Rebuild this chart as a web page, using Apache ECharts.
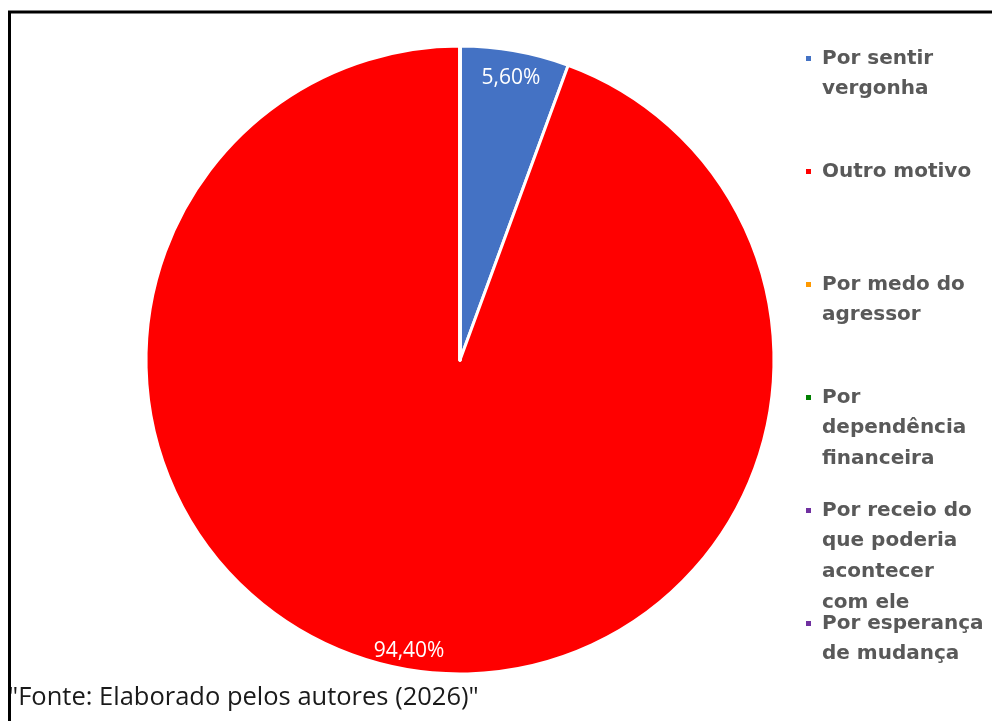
<!DOCTYPE html>
<html>
<head>
<meta charset="utf-8">
<script src="https://cdn.jsdelivr.net/npm/echarts@6/dist/echarts.min.js"></script>
<style>
html,body{margin:0;padding:0;background:#fff;}
#chart{width:992px;height:721px;}
</style>
</head>
<body>
<div id="chart"></div>
<script>
const categories = [
  'Por sentir\nvergonha',
  'Outro motivo',
  'Por medo do\nagressor',
  'Por\ndependência\nfinanceira',
  'Por receio do\nque poderia\nacontecer\ncom ele',
  'Por esperança\nde mudança'
];
const values = [5.6, 94.4, 0, 0, 0, 0];
const sourceNote = '"Fonte: Elaborado pelos autores (2026)"';

const palette = ['#4472C4', '#FF0000', '#FF9900', '#008000', '#7030A0', '#7030A0'];
const LH = 30.6;

const pieData = categories.map((c, i) => ({ name: c, value: values[i] }));

// Each legend entry: its text is padded with leading blank lines so that the
// icon (centred on the text block) lines up with the first text line.
const legends = categories.map((c, i) => {
  const n = c.split('\n').length;
  const blockLines = 2 * n - 1;
  return {
    data: [c],
    orient: 'vertical',
    left: 804,
    top: 58.5 + i * 113 - blockLines * LH / 2,
    padding: 0,
    itemWidth: 7,
    itemHeight: 7,
    icon: 'rect',
    selectedMode: false,
    formatter: name => '\n'.repeat(n - 1) + name,
    textStyle: {
      fontFamily: 'DejaVu Sans',
      fontWeight: 'bold',
      fontSize: 20,
      color: '#595959',
      lineHeight: LH,
      padding: [0, 0, 0, 5]
    }
  };
});

const chart = echarts.init(document.getElementById('chart'), null, { renderer: 'canvas' });
chart.setOption({
  animation: false,
  color: palette,
  legend: legends,
  title: {
    text: sourceNote,
    left: 8,
    top: 685,
    padding: 0,
    textStyle: { fontFamily: 'Open Sans', fontWeight: 'normal', fontSize: 25.5, color: '#1a1a1a' }
  },
  graphic: [{
    type: 'rect',
    silent: true,
    z: 100,
    shape: { x: 9.5, y: 12, width: 1100, height: 800 },
    style: { fill: 'none', stroke: '#000', lineWidth: 3 }
  }],
  series: [
    {
      type: 'pie',
      center: [460, 360],
      radius: [0, 314],
      startAngle: 90,
      clockwise: true,
      data: pieData,
      label: { show: false },
      labelLine: { show: false },
      itemStyle: { borderColor: '#fff', borderWidth: 3 },
      emphasis: { disabled: true }
    },
    {
      type: 'pie',
      center: [460, 360],
      radius: [262, 314],
      startAngle: 90,
      clockwise: true,
      silent: true,
      minShowLabelAngle: 1,
      data: pieData,
      itemStyle: { color: 'rgba(0,0,0,0)' },
      label: {
        show: true,
        position: 'inside',
        offset: [0, 5],
        fontFamily: 'Open Sans',
        fontSize: 21,
        color: '#fff',
        formatter: p => p.value > 0 ? p.value.toFixed(2).replace('.', ',') + '%' : ''
      },
      labelLine: { show: false },
      emphasis: { disabled: true }
    }
  ]
});
</script>
</body>
</html>
